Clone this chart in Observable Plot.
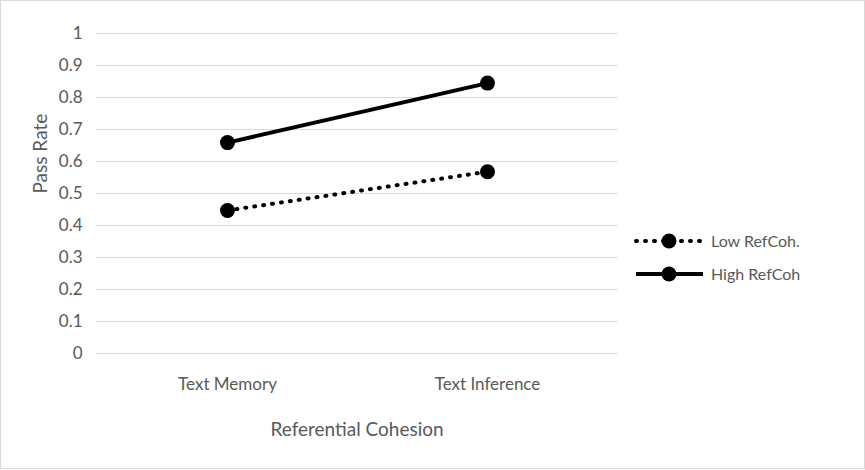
<!DOCTYPE html>
<html><head><meta charset="utf-8">
<script src="https://cdn.jsdelivr.net/npm/d3@7"></script>
<script src="https://cdn.jsdelivr.net/npm/@observablehq/plot@0.6"></script>
<style>
body{margin:0;background:#fff;font-family:Lato,sans-serif}
#wrap{position:relative;width:865px;height:470px}
#frame{position:absolute;left:0;top:0;width:863px;height:467px;border:1px solid #d9d9d9;pointer-events:none}
#legend{position:absolute;left:633px;top:224px;font-size:16px;color:#595959}
#legend div{display:flex;align-items:center;height:33px}
</style></head>
<body><div id="wrap"><div id="frame"></div><div id="legend"></div></div>
<script>
const categories = ["Text Memory", "Text Inference"];
const series = ["Low RefCoh.", "High RefCoh"];
const lowValues = [0.447, 0.568];
const highValues = [0.659, 0.845];
const yTicks = d3.range(0, 11).map(d => d / 10);

const data = [];
categories.forEach((c, i) => {
  data.push({cat: c, s: series[0], v: lowValues[i]});
  data.push({cat: c, s: series[1], v: highValues[i]});
});

const chart = Plot.plot({
  width: 865, height: 470,
  marginLeft: 96, marginRight: 248, marginTop: 33, marginBottom: 117,
  style: {fontFamily: "Lato, sans-serif", fontSize: "17px", color: "#595959", background: "transparent"},
  x: {type: "point", domain: categories, padding: 0.5, label: null},
  y: {domain: [0, 1], ticks: yTicks, label: null},
  marks: [
    Plot.gridY(yTicks, {stroke: "#d9d9d9", strokeOpacity: 1}),
    Plot.axisY(yTicks, {tickSize: 0, tickPadding: 14, tickFormat: d => String(d), fontSize: 17}),
    Plot.axisX({tickSize: 0, tickPadding: 24, fontSize: 17}),
    Plot.line(data.filter(d => d.s === series[0]), {x: "cat", y: "v", stroke: "black", strokeWidth: 4, strokeDasharray: "1,8", strokeLinecap: "round"}),
    Plot.line(data.filter(d => d.s === series[1]), {x: "cat", y: "v", stroke: "black", strokeWidth: 4}),
    Plot.dot(data, {x: "cat", y: "v", r: 7.5, fill: "black"}),
    Plot.text(["Pass Rate"], {frameAnchor: "left", dx: -56, rotate: -90, fontSize: 19, fill: "#595959"}),
    Plot.text(["Referential Cohesion"], {frameAnchor: "bottom", dy: 82, fontSize: 19, fill: "#595959"})
  ]
});
document.getElementById("wrap").prepend(chart);

const leg = d3.select("#legend");
series.forEach((s, i) => {
  const row = leg.append("div");
  const sv = row.append("svg").attr("width", 76).attr("height", 20);
  sv.append("line").attr("x1", 3).attr("x2", 70).attr("y1", 10).attr("y2", 10)
    .attr("stroke", "black").attr("stroke-width", 4)
    .attr("stroke-dasharray", i === 0 ? "1,8" : null).attr("stroke-linecap", i === 0 ? "round" : "butt");
  sv.append("circle").attr("cx", 36).attr("cy", 10).attr("r", 7.5).attr("fill", "black");
  row.append("span").text(s).style("margin-left", "2px");
});
</script></body></html>
